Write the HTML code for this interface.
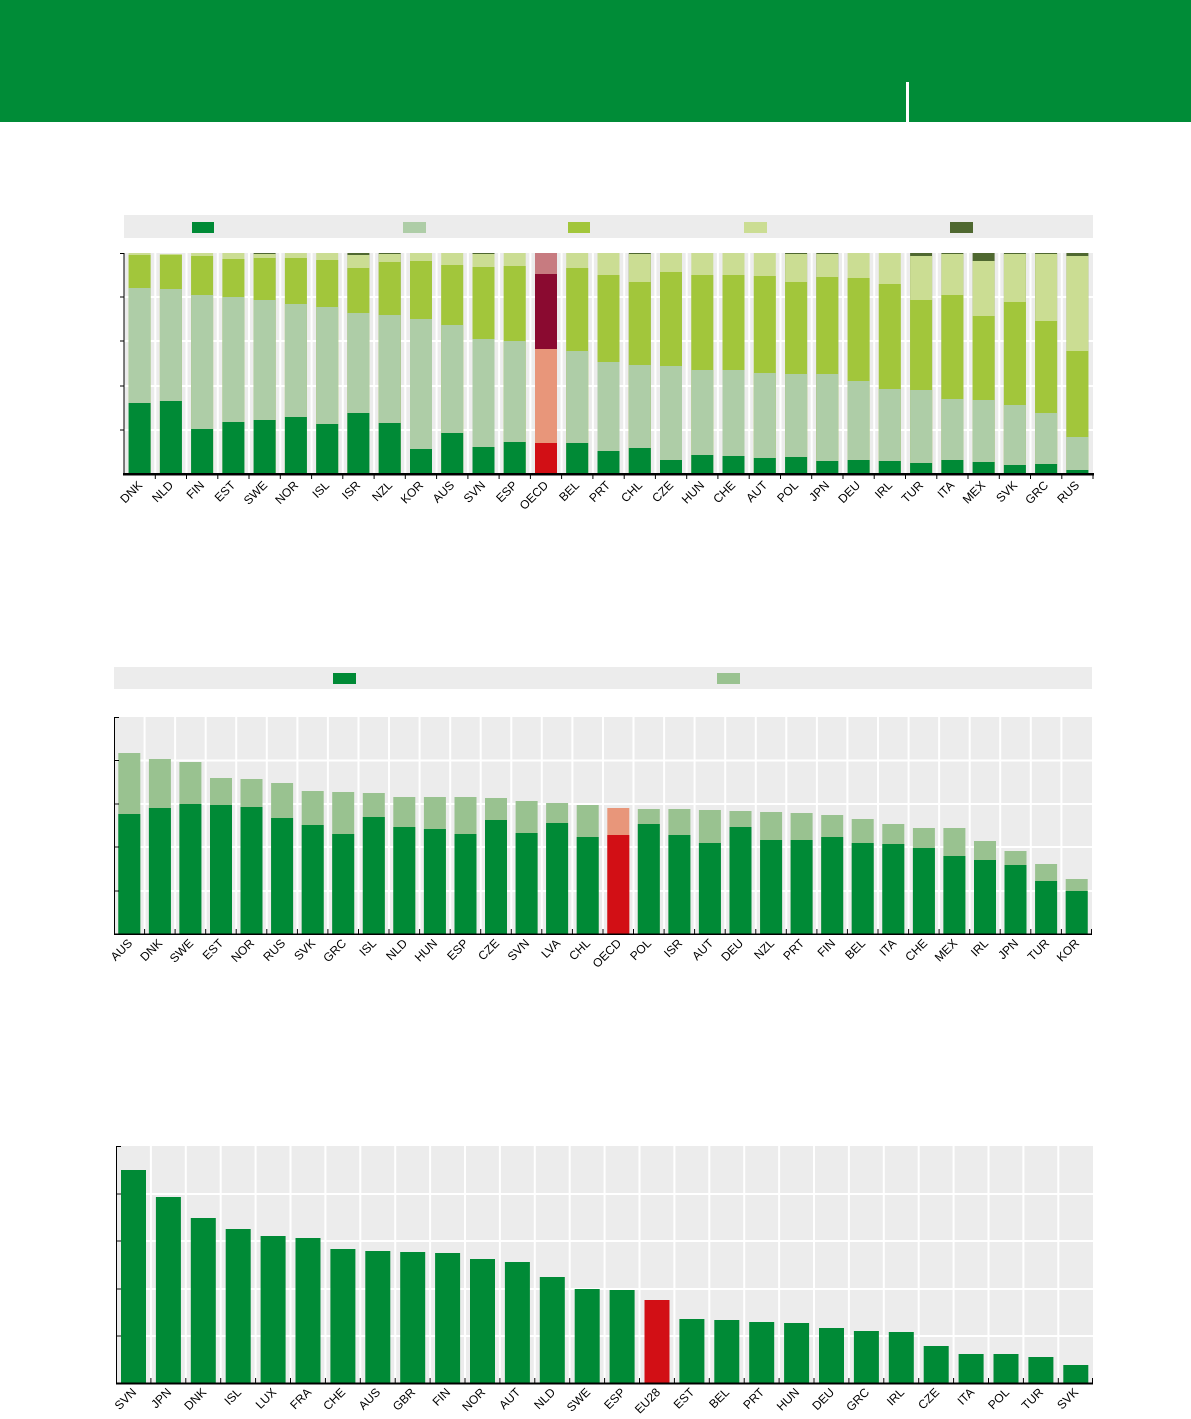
<!DOCTYPE html>
<html><head><meta charset="utf-8"><style>
body{margin:0;background:#fff}
svg{display:block}
text{font-family:"Liberation Sans",sans-serif;font-size:12px;fill:#000}
.g1{fill:#008a36}.g2{fill:#aecda7}.g3{fill:#a2c63b}.g4{fill:#cbdd93}.g5{fill:#4f6830}
.r1{fill:#d20f15}.r2{fill:#e8967a}.r3{fill:#8a0a30}.r4{fill:#c77b80}
.l2{fill:#99c290}
.gl{stroke:#fff;stroke-width:2}
</style></head><body>
<svg width="1191" height="1419" viewBox="0 0 1191 1419" xmlns="http://www.w3.org/2000/svg">
<rect x="0" y="0" width="1191" height="122" fill="#008c37"/>
<rect x="906" y="82" width="3" height="40" fill="#fff"/>

<!-- CHART 1 -->
<rect x="124" y="215" width="969" height="23" fill="#ececec"/>
<rect x="192" y="222" width="22" height="11" class="g1"/>
<rect x="403" y="222" width="23" height="11" class="g2"/>
<rect x="568" y="222" width="22" height="11" class="g3"/>
<rect x="744" y="222" width="23" height="11" class="g4"/>
<rect x="950" y="222" width="23" height="11" class="g5"/>
<rect x="124" y="253" width="969" height="221" fill="#ececec"/>
<g class="gl">
<line x1="124" y1="297" x2="1093" y2="297"/><line x1="124" y1="341" x2="1093" y2="341"/><line x1="124" y1="386" x2="1093" y2="386"/><line x1="124" y1="430" x2="1093" y2="430"/>
<line x1="155.3" y1="253" x2="155.3" y2="474"/><line x1="186.5" y1="253" x2="186.5" y2="474"/><line x1="217.8" y1="253" x2="217.8" y2="474"/><line x1="249" y1="253" x2="249" y2="474"/><line x1="280.3" y1="253" x2="280.3" y2="474"/><line x1="311.6" y1="253" x2="311.6" y2="474"/><line x1="342.8" y1="253" x2="342.8" y2="474"/><line x1="374.1" y1="253" x2="374.1" y2="474"/><line x1="405.3" y1="253" x2="405.3" y2="474"/><line x1="436.6" y1="253" x2="436.6" y2="474"/><line x1="467.9" y1="253" x2="467.9" y2="474"/><line x1="499.1" y1="253" x2="499.1" y2="474"/><line x1="530.4" y1="253" x2="530.4" y2="474"/><line x1="561.6" y1="253" x2="561.6" y2="474"/><line x1="592.9" y1="253" x2="592.9" y2="474"/><line x1="624.2" y1="253" x2="624.2" y2="474"/><line x1="655.4" y1="253" x2="655.4" y2="474"/><line x1="686.7" y1="253" x2="686.7" y2="474"/><line x1="717.9" y1="253" x2="717.9" y2="474"/><line x1="749.2" y1="253" x2="749.2" y2="474"/><line x1="780.5" y1="253" x2="780.5" y2="474"/><line x1="811.7" y1="253" x2="811.7" y2="474"/><line x1="843" y1="253" x2="843" y2="474"/><line x1="874.2" y1="253" x2="874.2" y2="474"/><line x1="905.5" y1="253" x2="905.5" y2="474"/><line x1="936.8" y1="253" x2="936.8" y2="474"/><line x1="968" y1="253" x2="968" y2="474"/><line x1="999.3" y1="253" x2="999.3" y2="474"/><line x1="1030.5" y1="253" x2="1030.5" y2="474"/><line x1="1061.8" y1="253" x2="1061.8" y2="474"/>
</g>
<g>
<rect x="128.6" y="253" width="22" height="221" class="g4"/><rect x="128.6" y="255" width="22" height="219" class="g3"/><rect x="128.6" y="288" width="22" height="186" class="g2"/><rect x="128.6" y="403" width="22" height="71" class="g1"/>
<rect x="159.9" y="254" width="22" height="220" class="g4"/><rect x="159.9" y="255" width="22" height="219" class="g3"/><rect x="159.9" y="289" width="22" height="185" class="g2"/><rect x="159.9" y="401" width="22" height="73" class="g1"/>
<rect x="191.1" y="253" width="22" height="221" class="g4"/><rect x="191.1" y="256" width="22" height="218" class="g3"/><rect x="191.1" y="295" width="22" height="179" class="g2"/><rect x="191.1" y="429" width="22" height="45" class="g1"/>
<rect x="222.4" y="253" width="22" height="221" class="g4"/><rect x="222.4" y="259" width="22" height="215" class="g3"/><rect x="222.4" y="297" width="22" height="177" class="g2"/><rect x="222.4" y="422" width="22" height="52" class="g1"/>
<rect x="253.6" y="253" width="22" height="221" class="g5"/><rect x="253.6" y="254" width="22" height="220" class="g4"/><rect x="253.6" y="258" width="22" height="216" class="g3"/><rect x="253.6" y="300" width="22" height="174" class="g2"/><rect x="253.6" y="420" width="22" height="54" class="g1"/>
<rect x="284.9" y="253" width="22" height="221" class="g4"/><rect x="284.9" y="258" width="22" height="216" class="g3"/><rect x="284.9" y="304" width="22" height="170" class="g2"/><rect x="284.9" y="417" width="22" height="57" class="g1"/>
<rect x="316.2" y="253" width="22" height="221" class="g4"/><rect x="316.2" y="260" width="22" height="214" class="g3"/><rect x="316.2" y="307" width="22" height="167" class="g2"/><rect x="316.2" y="424" width="22" height="50" class="g1"/>
<rect x="347.4" y="253" width="22" height="221" class="g5"/><rect x="347.4" y="255" width="22" height="219" class="g4"/><rect x="347.4" y="268" width="22" height="206" class="g3"/><rect x="347.4" y="313" width="22" height="161" class="g2"/><rect x="347.4" y="413" width="22" height="61" class="g1"/>
<rect x="378.7" y="253" width="22" height="221" class="g5"/><rect x="378.7" y="254" width="22" height="220" class="g4"/><rect x="378.7" y="262" width="22" height="212" class="g3"/><rect x="378.7" y="315" width="22" height="159" class="g2"/><rect x="378.7" y="423" width="22" height="51" class="g1"/>
<rect x="410" y="253" width="22" height="221" class="g4"/><rect x="410" y="261" width="22" height="213" class="g3"/><rect x="410" y="319" width="22" height="155" class="g2"/><rect x="410" y="449" width="22" height="25" class="g1"/>
<rect x="441.2" y="253" width="22" height="221" class="g4"/><rect x="441.2" y="265" width="22" height="209" class="g3"/><rect x="441.2" y="325" width="22" height="149" class="g2"/><rect x="441.2" y="433" width="22" height="41" class="g1"/>
<rect x="472.5" y="253" width="22" height="221" class="g5"/><rect x="472.5" y="254" width="22" height="220" class="g4"/><rect x="472.5" y="267" width="22" height="207" class="g3"/><rect x="472.5" y="339" width="22" height="135" class="g2"/><rect x="472.5" y="447" width="22" height="27" class="g1"/>
<rect x="503.7" y="253" width="22" height="221" class="g4"/><rect x="503.7" y="266" width="22" height="208" class="g3"/><rect x="503.7" y="341" width="22" height="133" class="g2"/><rect x="503.7" y="442" width="22" height="32" class="g1"/>
<rect x="535" y="253" width="22" height="221" class="r4"/><rect x="535" y="274" width="22" height="200" class="r3"/><rect x="535" y="349" width="22" height="125" class="r2"/><rect x="535" y="443" width="22" height="31" class="r1"/>
<rect x="566.2" y="253" width="22" height="221" class="g4"/><rect x="566.2" y="268" width="22" height="206" class="g3"/><rect x="566.2" y="351" width="22" height="123" class="g2"/><rect x="566.2" y="443" width="22" height="31" class="g1"/>
<rect x="597.5" y="253" width="22" height="221" class="g4"/><rect x="597.5" y="275" width="22" height="199" class="g3"/><rect x="597.5" y="362" width="22" height="112" class="g2"/><rect x="597.5" y="451" width="22" height="23" class="g1"/>
<rect x="628.8" y="253" width="22" height="221" class="g5"/><rect x="628.8" y="254" width="22" height="220" class="g4"/><rect x="628.8" y="282" width="22" height="192" class="g3"/><rect x="628.8" y="365" width="22" height="109" class="g2"/><rect x="628.8" y="448" width="22" height="26" class="g1"/>
<rect x="660" y="253" width="22" height="221" class="g4"/><rect x="660" y="272" width="22" height="202" class="g3"/><rect x="660" y="366" width="22" height="108" class="g2"/><rect x="660" y="460" width="22" height="14" class="g1"/>
<rect x="691.3" y="253" width="22" height="221" class="g4"/><rect x="691.3" y="275" width="22" height="199" class="g3"/><rect x="691.3" y="370" width="22" height="104" class="g2"/><rect x="691.3" y="455" width="22" height="19" class="g1"/>
<rect x="722.5" y="253" width="22" height="221" class="g4"/><rect x="722.5" y="275" width="22" height="199" class="g3"/><rect x="722.5" y="370" width="22" height="104" class="g2"/><rect x="722.5" y="456" width="22" height="18" class="g1"/>
<rect x="753.8" y="253" width="22" height="221" class="g4"/><rect x="753.8" y="276" width="22" height="198" class="g3"/><rect x="753.8" y="373" width="22" height="101" class="g2"/><rect x="753.8" y="458" width="22" height="16" class="g1"/>
<rect x="785.1" y="253" width="22" height="221" class="g5"/><rect x="785.1" y="254" width="22" height="220" class="g4"/><rect x="785.1" y="282" width="22" height="192" class="g3"/><rect x="785.1" y="374" width="22" height="100" class="g2"/><rect x="785.1" y="457" width="22" height="17" class="g1"/>
<rect x="816.3" y="253" width="22" height="221" class="g5"/><rect x="816.3" y="254" width="22" height="220" class="g4"/><rect x="816.3" y="277" width="22" height="197" class="g3"/><rect x="816.3" y="374" width="22" height="100" class="g2"/><rect x="816.3" y="461" width="22" height="13" class="g1"/>
<rect x="847.6" y="253" width="22" height="221" class="g4"/><rect x="847.6" y="278" width="22" height="196" class="g3"/><rect x="847.6" y="381" width="22" height="93" class="g2"/><rect x="847.6" y="460" width="22" height="14" class="g1"/>
<rect x="878.8" y="253" width="22" height="221" class="g4"/><rect x="878.8" y="284" width="22" height="190" class="g3"/><rect x="878.8" y="389" width="22" height="85" class="g2"/><rect x="878.8" y="461" width="22" height="13" class="g1"/>
<rect x="910.1" y="253" width="22" height="221" class="g5"/><rect x="910.1" y="256" width="22" height="218" class="g4"/><rect x="910.1" y="300" width="22" height="174" class="g3"/><rect x="910.1" y="390" width="22" height="84" class="g2"/><rect x="910.1" y="463" width="22" height="11" class="g1"/>
<rect x="941.4" y="253" width="22" height="221" class="g5"/><rect x="941.4" y="254" width="22" height="220" class="g4"/><rect x="941.4" y="295" width="22" height="179" class="g3"/><rect x="941.4" y="399" width="22" height="75" class="g2"/><rect x="941.4" y="460" width="22" height="14" class="g1"/>
<rect x="972.6" y="253" width="22" height="221" class="g5"/><rect x="972.6" y="261" width="22" height="213" class="g4"/><rect x="972.6" y="316" width="22" height="158" class="g3"/><rect x="972.6" y="400" width="22" height="74" class="g2"/><rect x="972.6" y="462" width="22" height="12" class="g1"/>
<rect x="1003.9" y="253" width="22" height="221" class="g5"/><rect x="1003.9" y="254" width="22" height="220" class="g4"/><rect x="1003.9" y="302" width="22" height="172" class="g3"/><rect x="1003.9" y="405" width="22" height="69" class="g2"/><rect x="1003.9" y="465" width="22" height="9" class="g1"/>
<rect x="1035.1" y="253" width="22" height="221" class="g5"/><rect x="1035.1" y="254" width="22" height="220" class="g4"/><rect x="1035.1" y="321" width="22" height="153" class="g3"/><rect x="1035.1" y="413" width="22" height="61" class="g2"/><rect x="1035.1" y="464" width="22" height="10" class="g1"/>
<rect x="1066.4" y="253" width="22" height="221" class="g5"/><rect x="1066.4" y="256" width="22" height="218" class="g4"/><rect x="1066.4" y="351" width="22" height="123" class="g3"/><rect x="1066.4" y="437" width="22" height="37" class="g2"/><rect x="1066.4" y="470" width="22" height="4" class="g1"/>
</g>
<g stroke="#000" stroke-width="1">
<line x1="124" y1="253" x2="124" y2="474"/>
<line x1="120" y1="253.5" x2="124" y2="253.5"/><line x1="120" y1="297" x2="124" y2="297"/><line x1="120" y1="341" x2="124" y2="341"/><line x1="120" y1="386" x2="124" y2="386"/><line x1="120" y1="430" x2="124" y2="430"/>
<line x1="155.3" y1="474" x2="155.3" y2="479"/><line x1="186.5" y1="474" x2="186.5" y2="479"/><line x1="217.8" y1="474" x2="217.8" y2="479"/><line x1="249" y1="474" x2="249" y2="479"/><line x1="280.3" y1="474" x2="280.3" y2="479"/><line x1="311.6" y1="474" x2="311.6" y2="479"/><line x1="342.8" y1="474" x2="342.8" y2="479"/><line x1="374.1" y1="474" x2="374.1" y2="479"/><line x1="405.3" y1="474" x2="405.3" y2="479"/><line x1="436.6" y1="474" x2="436.6" y2="479"/><line x1="467.9" y1="474" x2="467.9" y2="479"/><line x1="499.1" y1="474" x2="499.1" y2="479"/><line x1="530.4" y1="474" x2="530.4" y2="479"/><line x1="561.6" y1="474" x2="561.6" y2="479"/><line x1="592.9" y1="474" x2="592.9" y2="479"/><line x1="624.2" y1="474" x2="624.2" y2="479"/><line x1="655.4" y1="474" x2="655.4" y2="479"/><line x1="686.7" y1="474" x2="686.7" y2="479"/><line x1="717.9" y1="474" x2="717.9" y2="479"/><line x1="749.2" y1="474" x2="749.2" y2="479"/><line x1="780.5" y1="474" x2="780.5" y2="479"/><line x1="811.7" y1="474" x2="811.7" y2="479"/><line x1="843" y1="474" x2="843" y2="479"/><line x1="874.2" y1="474" x2="874.2" y2="479"/><line x1="905.5" y1="474" x2="905.5" y2="479"/><line x1="936.8" y1="474" x2="936.8" y2="479"/><line x1="968" y1="474" x2="968" y2="479"/><line x1="999.3" y1="474" x2="999.3" y2="479"/><line x1="1030.5" y1="474" x2="1030.5" y2="479"/><line x1="1061.8" y1="474" x2="1061.8" y2="479"/><line x1="1093" y1="474" x2="1093" y2="479"/>
</g>
<rect x="123" y="473" width="971" height="2.5" fill="#000"/>
<g text-anchor="end">
<text transform="translate(143,486) rotate(-45)">DNK</text><text transform="translate(174,486) rotate(-45)">NLD</text><text transform="translate(205,486) rotate(-45)">FIN</text><text transform="translate(236,486) rotate(-45)">EST</text><text transform="translate(268,486) rotate(-45)">SWE</text><text transform="translate(299,486) rotate(-45)">NOR</text><text transform="translate(330,486) rotate(-45)">ISL</text><text transform="translate(361,486) rotate(-45)">ISR</text><text transform="translate(393,486) rotate(-45)">NZL</text><text transform="translate(424,486) rotate(-45)">KOR</text><text transform="translate(455,486) rotate(-45)">AUS</text><text transform="translate(486,486) rotate(-45)">SVN</text><text transform="translate(518,486) rotate(-45)">ESP</text><text transform="translate(549,486) rotate(-45)">OECD</text><text transform="translate(580,486) rotate(-45)">BEL</text><text transform="translate(611,486) rotate(-45)">PRT</text><text transform="translate(643,486) rotate(-45)">CHL</text><text transform="translate(674,486) rotate(-45)">CZE</text><text transform="translate(705,486) rotate(-45)">HUN</text><text transform="translate(736,486) rotate(-45)">CHE</text><text transform="translate(768,486) rotate(-45)">AUT</text><text transform="translate(799,486) rotate(-45)">POL</text><text transform="translate(830,486) rotate(-45)">JPN</text><text transform="translate(861,486) rotate(-45)">DEU</text><text transform="translate(893,486) rotate(-45)">IRL</text><text transform="translate(924,486) rotate(-45)">TUR</text><text transform="translate(955,486) rotate(-45)">ITA</text><text transform="translate(986,486) rotate(-45)">MEX</text><text transform="translate(1018,486) rotate(-45)">SVK</text><text transform="translate(1049,486) rotate(-45)">GRC</text><text transform="translate(1080,486) rotate(-45)">RUS</text>
</g>

<!-- CHART 2 -->
<rect x="114" y="667" width="978" height="22" fill="#ececec"/>
<rect x="333" y="673" width="23" height="11" class="g1"/>
<rect x="717" y="673" width="23" height="11" class="l2"/>
<rect x="114" y="717" width="978" height="217" fill="#ececec"/>
<g class="gl">
<line x1="114" y1="760.5" x2="1092" y2="760.5"/><line x1="114" y1="804" x2="1092" y2="804"/><line x1="114" y1="847" x2="1092" y2="847"/><line x1="114" y1="891" x2="1092" y2="891"/>
<line x1="144.6" y1="717" x2="144.6" y2="934"/><line x1="175.1" y1="717" x2="175.1" y2="934"/><line x1="205.7" y1="717" x2="205.7" y2="934"/><line x1="236.2" y1="717" x2="236.2" y2="934"/><line x1="266.8" y1="717" x2="266.8" y2="934"/><line x1="297.4" y1="717" x2="297.4" y2="934"/><line x1="327.9" y1="717" x2="327.9" y2="934"/><line x1="358.5" y1="717" x2="358.5" y2="934"/><line x1="389" y1="717" x2="389" y2="934"/><line x1="419.6" y1="717" x2="419.6" y2="934"/><line x1="450.2" y1="717" x2="450.2" y2="934"/><line x1="480.7" y1="717" x2="480.7" y2="934"/><line x1="511.3" y1="717" x2="511.3" y2="934"/><line x1="541.8" y1="717" x2="541.8" y2="934"/><line x1="572.4" y1="717" x2="572.4" y2="934"/><line x1="603" y1="717" x2="603" y2="934"/><line x1="633.5" y1="717" x2="633.5" y2="934"/><line x1="664.1" y1="717" x2="664.1" y2="934"/><line x1="694.6" y1="717" x2="694.6" y2="934"/><line x1="725.2" y1="717" x2="725.2" y2="934"/><line x1="755.8" y1="717" x2="755.8" y2="934"/><line x1="786.3" y1="717" x2="786.3" y2="934"/><line x1="816.9" y1="717" x2="816.9" y2="934"/><line x1="847.4" y1="717" x2="847.4" y2="934"/><line x1="878" y1="717" x2="878" y2="934"/><line x1="908.6" y1="717" x2="908.6" y2="934"/><line x1="939.1" y1="717" x2="939.1" y2="934"/><line x1="969.7" y1="717" x2="969.7" y2="934"/><line x1="1000.2" y1="717" x2="1000.2" y2="934"/><line x1="1030.8" y1="717" x2="1030.8" y2="934"/><line x1="1061.4" y1="717" x2="1061.4" y2="934"/>
</g>
<g>
<rect x="118.3" y="753" width="22" height="181" class="l2"/><rect x="118.3" y="814" width="22" height="120" class="g1"/>
<rect x="148.9" y="759" width="22" height="175" class="l2"/><rect x="148.9" y="808" width="22" height="126" class="g1"/>
<rect x="179.4" y="762" width="22" height="172" class="l2"/><rect x="179.4" y="804" width="22" height="130" class="g1"/>
<rect x="210" y="778" width="22" height="156" class="l2"/><rect x="210" y="805" width="22" height="129" class="g1"/>
<rect x="240.5" y="779" width="22" height="155" class="l2"/><rect x="240.5" y="807" width="22" height="127" class="g1"/>
<rect x="271.1" y="783" width="22" height="151" class="l2"/><rect x="271.1" y="818" width="22" height="116" class="g1"/>
<rect x="301.7" y="791" width="22" height="143" class="l2"/><rect x="301.7" y="825" width="22" height="109" class="g1"/>
<rect x="332.2" y="792" width="22" height="142" class="l2"/><rect x="332.2" y="834" width="22" height="100" class="g1"/>
<rect x="362.8" y="793" width="22" height="141" class="l2"/><rect x="362.8" y="817" width="22" height="117" class="g1"/>
<rect x="393.3" y="797" width="22" height="137" class="l2"/><rect x="393.3" y="827" width="22" height="107" class="g1"/>
<rect x="423.9" y="797" width="22" height="137" class="l2"/><rect x="423.9" y="829" width="22" height="105" class="g1"/>
<rect x="454.5" y="797" width="22" height="137" class="l2"/><rect x="454.5" y="834" width="22" height="100" class="g1"/>
<rect x="485" y="798" width="22" height="136" class="l2"/><rect x="485" y="820" width="22" height="114" class="g1"/>
<rect x="515.6" y="801" width="22" height="133" class="l2"/><rect x="515.6" y="833" width="22" height="101" class="g1"/>
<rect x="546.1" y="803" width="22" height="131" class="l2"/><rect x="546.1" y="823" width="22" height="111" class="g1"/>
<rect x="576.7" y="805" width="22" height="129" class="l2"/><rect x="576.7" y="837" width="22" height="97" class="g1"/>
<rect x="607.3" y="808" width="22" height="126" class="r2"/><rect x="607.3" y="835" width="22" height="99" class="r1"/>
<rect x="637.8" y="809" width="22" height="125" class="l2"/><rect x="637.8" y="824" width="22" height="110" class="g1"/>
<rect x="668.4" y="809" width="22" height="125" class="l2"/><rect x="668.4" y="835" width="22" height="99" class="g1"/>
<rect x="698.9" y="810" width="22" height="124" class="l2"/><rect x="698.9" y="843" width="22" height="91" class="g1"/>
<rect x="729.5" y="811" width="22" height="123" class="l2"/><rect x="729.5" y="827" width="22" height="107" class="g1"/>
<rect x="760.1" y="812" width="22" height="122" class="l2"/><rect x="760.1" y="840" width="22" height="94" class="g1"/>
<rect x="790.6" y="813" width="22" height="121" class="l2"/><rect x="790.6" y="840" width="22" height="94" class="g1"/>
<rect x="821.2" y="815" width="22" height="119" class="l2"/><rect x="821.2" y="837" width="22" height="97" class="g1"/>
<rect x="851.7" y="819" width="22" height="115" class="l2"/><rect x="851.7" y="843" width="22" height="91" class="g1"/>
<rect x="882.3" y="824" width="22" height="110" class="l2"/><rect x="882.3" y="844" width="22" height="90" class="g1"/>
<rect x="912.9" y="828" width="22" height="106" class="l2"/><rect x="912.9" y="848" width="22" height="86" class="g1"/>
<rect x="943.4" y="828" width="22" height="106" class="l2"/><rect x="943.4" y="856" width="22" height="78" class="g1"/>
<rect x="974" y="841" width="22" height="93" class="l2"/><rect x="974" y="860" width="22" height="74" class="g1"/>
<rect x="1004.5" y="851" width="22" height="83" class="l2"/><rect x="1004.5" y="865" width="22" height="69" class="g1"/>
<rect x="1035.1" y="864" width="22" height="70" class="l2"/><rect x="1035.1" y="881" width="22" height="53" class="g1"/>
<rect x="1065.7" y="879" width="22" height="55" class="l2"/><rect x="1065.7" y="891" width="22" height="43" class="g1"/>
</g>
<g stroke="#000" stroke-width="1">
<line x1="114.5" y1="717" x2="114.5" y2="934"/>
<line x1="114" y1="717.5" x2="119" y2="717.5"/><line x1="114" y1="760.5" x2="119" y2="760.5"/><line x1="114" y1="804" x2="119" y2="804"/><line x1="114" y1="847" x2="119" y2="847"/><line x1="114" y1="891" x2="119" y2="891"/>
<line x1="144.6" y1="929" x2="144.6" y2="934"/><line x1="175.1" y1="929" x2="175.1" y2="934"/><line x1="205.7" y1="929" x2="205.7" y2="934"/><line x1="236.2" y1="929" x2="236.2" y2="934"/><line x1="266.8" y1="929" x2="266.8" y2="934"/><line x1="297.4" y1="929" x2="297.4" y2="934"/><line x1="327.9" y1="929" x2="327.9" y2="934"/><line x1="358.5" y1="929" x2="358.5" y2="934"/><line x1="389" y1="929" x2="389" y2="934"/><line x1="419.6" y1="929" x2="419.6" y2="934"/><line x1="450.2" y1="929" x2="450.2" y2="934"/><line x1="480.7" y1="929" x2="480.7" y2="934"/><line x1="511.3" y1="929" x2="511.3" y2="934"/><line x1="541.8" y1="929" x2="541.8" y2="934"/><line x1="572.4" y1="929" x2="572.4" y2="934"/><line x1="603" y1="929" x2="603" y2="934"/><line x1="633.5" y1="929" x2="633.5" y2="934"/><line x1="664.1" y1="929" x2="664.1" y2="934"/><line x1="694.6" y1="929" x2="694.6" y2="934"/><line x1="725.2" y1="929" x2="725.2" y2="934"/><line x1="755.8" y1="929" x2="755.8" y2="934"/><line x1="786.3" y1="929" x2="786.3" y2="934"/><line x1="816.9" y1="929" x2="816.9" y2="934"/><line x1="847.4" y1="929" x2="847.4" y2="934"/><line x1="878" y1="929" x2="878" y2="934"/><line x1="908.6" y1="929" x2="908.6" y2="934"/><line x1="939.1" y1="929" x2="939.1" y2="934"/><line x1="969.7" y1="929" x2="969.7" y2="934"/><line x1="1000.2" y1="929" x2="1000.2" y2="934"/><line x1="1030.8" y1="929" x2="1030.8" y2="934"/><line x1="1061.4" y1="929" x2="1061.4" y2="934"/><line x1="1091.5" y1="929" x2="1091.5" y2="934"/>
</g>
<rect x="114" y="933.5" width="978" height="1.5" fill="#000"/>
<g text-anchor="end">
<text transform="translate(133,944) rotate(-45)">AUS</text><text transform="translate(163,944) rotate(-45)">DNK</text><text transform="translate(194,944) rotate(-45)">SWE</text><text transform="translate(224,944) rotate(-45)">EST</text><text transform="translate(255,944) rotate(-45)">NOR</text><text transform="translate(286,944) rotate(-45)">RUS</text><text transform="translate(316,944) rotate(-45)">SVK</text><text transform="translate(347,944) rotate(-45)">GRC</text><text transform="translate(377,944) rotate(-45)">ISL</text><text transform="translate(408,944) rotate(-45)">NLD</text><text transform="translate(438,944) rotate(-45)">HUN</text><text transform="translate(469,944) rotate(-45)">ESP</text><text transform="translate(500,944) rotate(-45)">CZE</text><text transform="translate(530,944) rotate(-45)">SVN</text><text transform="translate(561,944) rotate(-45)">LVA</text><text transform="translate(591,944) rotate(-45)">CHL</text><text transform="translate(622,944) rotate(-45)">OECD</text><text transform="translate(652,944) rotate(-45)">POL</text><text transform="translate(683,944) rotate(-45)">ISR</text><text transform="translate(714,944) rotate(-45)">AUT</text><text transform="translate(744,944) rotate(-45)">DEU</text><text transform="translate(775,944) rotate(-45)">NZL</text><text transform="translate(805,944) rotate(-45)">PRT</text><text transform="translate(836,944) rotate(-45)">FIN</text><text transform="translate(866,944) rotate(-45)">BEL</text><text transform="translate(897,944) rotate(-45)">ITA</text><text transform="translate(928,944) rotate(-45)">CHE</text><text transform="translate(958,944) rotate(-45)">MEX</text><text transform="translate(989,944) rotate(-45)">IRL</text><text transform="translate(1019,944) rotate(-45)">JPN</text><text transform="translate(1050,944) rotate(-45)">TUR</text><text transform="translate(1080,944) rotate(-45)">KOR</text>
</g>

<!-- CHART 3 -->
<rect x="116" y="1146" width="977" height="237" fill="#ececec"/>
<g class="gl">
<line x1="116" y1="1194" x2="1093" y2="1194"/><line x1="116" y1="1241" x2="1093" y2="1241"/><line x1="116" y1="1289" x2="1093" y2="1289"/><line x1="116" y1="1336" x2="1093" y2="1336"/>
<line x1="150.9" y1="1146" x2="150.9" y2="1383"/><line x1="185.8" y1="1146" x2="185.8" y2="1383"/><line x1="220.7" y1="1146" x2="220.7" y2="1383"/><line x1="255.6" y1="1146" x2="255.6" y2="1383"/><line x1="290.5" y1="1146" x2="290.5" y2="1383"/><line x1="325.4" y1="1146" x2="325.4" y2="1383"/><line x1="360.3" y1="1146" x2="360.3" y2="1383"/><line x1="395.2" y1="1146" x2="395.2" y2="1383"/><line x1="430.1" y1="1146" x2="430.1" y2="1383"/><line x1="465" y1="1146" x2="465" y2="1383"/><line x1="499.9" y1="1146" x2="499.9" y2="1383"/><line x1="534.8" y1="1146" x2="534.8" y2="1383"/><line x1="569.7" y1="1146" x2="569.7" y2="1383"/><line x1="604.6" y1="1146" x2="604.6" y2="1383"/><line x1="639.5" y1="1146" x2="639.5" y2="1383"/><line x1="674.4" y1="1146" x2="674.4" y2="1383"/><line x1="709.3" y1="1146" x2="709.3" y2="1383"/><line x1="744.2" y1="1146" x2="744.2" y2="1383"/><line x1="779.1" y1="1146" x2="779.1" y2="1383"/><line x1="814" y1="1146" x2="814" y2="1383"/><line x1="848.9" y1="1146" x2="848.9" y2="1383"/><line x1="883.8" y1="1146" x2="883.8" y2="1383"/><line x1="918.7" y1="1146" x2="918.7" y2="1383"/><line x1="953.6" y1="1146" x2="953.6" y2="1383"/><line x1="988.5" y1="1146" x2="988.5" y2="1383"/><line x1="1023.4" y1="1146" x2="1023.4" y2="1383"/><line x1="1058.3" y1="1146" x2="1058.3" y2="1383"/>
</g>
<g class="g1">
<rect x="121" y="1170" width="25" height="213"/><rect x="155.9" y="1197" width="25" height="186"/><rect x="190.8" y="1218" width="25" height="165"/><rect x="225.7" y="1229" width="25" height="154"/><rect x="260.6" y="1236" width="25" height="147"/><rect x="295.5" y="1238" width="25" height="145"/><rect x="330.4" y="1249" width="25" height="134"/><rect x="365.3" y="1251" width="25" height="132"/><rect x="400.2" y="1252" width="25" height="131"/><rect x="435.1" y="1253" width="25" height="130"/><rect x="470" y="1259" width="25" height="124"/><rect x="504.9" y="1262" width="25" height="121"/><rect x="539.8" y="1277" width="25" height="106"/><rect x="574.7" y="1289" width="25" height="94"/><rect x="609.6" y="1290" width="25" height="93"/>
<rect x="644.5" y="1300" width="25" height="83" class="r1"/>
<rect x="679.4" y="1319" width="25" height="64"/><rect x="714.3" y="1320" width="25" height="63"/><rect x="749.2" y="1322" width="25" height="61"/><rect x="784.1" y="1323" width="25" height="60"/><rect x="819" y="1328" width="25" height="55"/><rect x="853.9" y="1331" width="25" height="52"/><rect x="888.8" y="1332" width="25" height="51"/><rect x="923.7" y="1346" width="25" height="37"/><rect x="958.6" y="1354" width="25" height="29"/><rect x="993.5" y="1354" width="25" height="29"/><rect x="1028.4" y="1357" width="25" height="26"/><rect x="1063.3" y="1365" width="25" height="18"/>
</g>
<g stroke="#000" stroke-width="1">
<line x1="116.5" y1="1146" x2="116.5" y2="1383"/>
<line x1="116" y1="1146.5" x2="121" y2="1146.5"/><line x1="116" y1="1194" x2="121" y2="1194"/><line x1="116" y1="1241" x2="121" y2="1241"/><line x1="116" y1="1289" x2="121" y2="1289"/><line x1="116" y1="1336" x2="121" y2="1336"/>
<line x1="150.9" y1="1378" x2="150.9" y2="1383"/><line x1="185.8" y1="1378" x2="185.8" y2="1383"/><line x1="220.7" y1="1378" x2="220.7" y2="1383"/><line x1="255.6" y1="1378" x2="255.6" y2="1383"/><line x1="290.5" y1="1378" x2="290.5" y2="1383"/><line x1="325.4" y1="1378" x2="325.4" y2="1383"/><line x1="360.3" y1="1378" x2="360.3" y2="1383"/><line x1="395.2" y1="1378" x2="395.2" y2="1383"/><line x1="430.1" y1="1378" x2="430.1" y2="1383"/><line x1="465" y1="1378" x2="465" y2="1383"/><line x1="499.9" y1="1378" x2="499.9" y2="1383"/><line x1="534.8" y1="1378" x2="534.8" y2="1383"/><line x1="569.7" y1="1378" x2="569.7" y2="1383"/><line x1="604.6" y1="1378" x2="604.6" y2="1383"/><line x1="639.5" y1="1378" x2="639.5" y2="1383"/><line x1="674.4" y1="1378" x2="674.4" y2="1383"/><line x1="709.3" y1="1378" x2="709.3" y2="1383"/><line x1="744.2" y1="1378" x2="744.2" y2="1383"/><line x1="779.1" y1="1378" x2="779.1" y2="1383"/><line x1="814" y1="1378" x2="814" y2="1383"/><line x1="848.9" y1="1378" x2="848.9" y2="1383"/><line x1="883.8" y1="1378" x2="883.8" y2="1383"/><line x1="918.7" y1="1378" x2="918.7" y2="1383"/><line x1="953.6" y1="1378" x2="953.6" y2="1383"/><line x1="988.5" y1="1378" x2="988.5" y2="1383"/><line x1="1023.4" y1="1378" x2="1023.4" y2="1383"/><line x1="1058.3" y1="1378" x2="1058.3" y2="1383"/><line x1="1092.5" y1="1378" x2="1092.5" y2="1383"/>
</g>
<rect x="116" y="1382.5" width="977" height="2" fill="#000"/>
<g text-anchor="end">
<text transform="translate(137,1393) rotate(-45)">SVN</text><text transform="translate(172,1393) rotate(-45)">JPN</text><text transform="translate(207,1393) rotate(-45)">DNK</text><text transform="translate(242,1393) rotate(-45)">ISL</text><text transform="translate(277,1393) rotate(-45)">LUX</text><text transform="translate(312,1393) rotate(-45)">FRA</text><text transform="translate(346,1393) rotate(-45)">CHE</text><text transform="translate(381,1393) rotate(-45)">AUS</text><text transform="translate(416,1393) rotate(-45)">GBR</text><text transform="translate(451,1393) rotate(-45)">FIN</text><text transform="translate(486,1393) rotate(-45)">NOR</text><text transform="translate(521,1393) rotate(-45)">AUT</text><text transform="translate(556,1393) rotate(-45)">NLD</text><text transform="translate(591,1393) rotate(-45)">SWE</text><text transform="translate(626,1393) rotate(-45)">ESP</text><text transform="translate(661,1393) rotate(-45)">EU28</text><text transform="translate(695,1393) rotate(-45)">EST</text><text transform="translate(730,1393) rotate(-45)">BEL</text><text transform="translate(765,1393) rotate(-45)">PRT</text><text transform="translate(800,1393) rotate(-45)">HUN</text><text transform="translate(835,1393) rotate(-45)">DEU</text><text transform="translate(870,1393) rotate(-45)">GRC</text><text transform="translate(905,1393) rotate(-45)">IRL</text><text transform="translate(940,1393) rotate(-45)">CZE</text><text transform="translate(975,1393) rotate(-45)">ITA</text><text transform="translate(1010,1393) rotate(-45)">POL</text><text transform="translate(1044,1393) rotate(-45)">TUR</text><text transform="translate(1079,1393) rotate(-45)">SVK</text>
</g>
</svg>
</body></html>
